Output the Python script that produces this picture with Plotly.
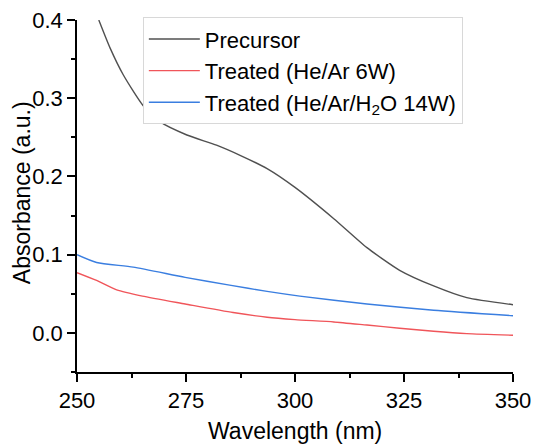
import plotly.graph_objects as go

# Data
precursor_x = [255, 257.6, 260.6, 265.1, 269, 275.2, 282, 287.4, 293.6, 300, 308.9, 316.5, 324, 331.8, 339.4, 350]
precursor_y = [0.400, 0.364, 0.330, 0.291, 0.270, 0.253, 0.240, 0.227, 0.210, 0.186, 0.146, 0.109, 0.080, 0.060, 0.045, 0.036]

he_ar_x = [250, 254.5, 259.1, 265, 274.8, 285.8, 293.6, 300, 308.9, 316.5, 324, 331.8, 339.4, 350]
he_ar_y = [0.077, 0.067, 0.055, 0.047, 0.037, 0.026, 0.020, 0.017, 0.014, 0.010, 0.006, 0.002, -0.001, -0.003]

he_ar_h2o_x = [250, 254.5, 262.9, 274.8, 285, 293.6, 301.1, 316.5, 331.8, 350]
he_ar_h2o_y = [0.100, 0.090, 0.084, 0.071, 0.061, 0.053, 0.047, 0.037, 0.029, 0.022]

series_names = ["Precursor", "Treated (He/Ar 6W)", "Treated (He/Ar/H<sub>2</sub>O 14W)"]
series_colors = ["#505050", "#f0555a", "#3a7ee0"]

x_ticks = [250, 275, 300, 325, 350]
y_ticks = [0.0, 0.1, 0.2, 0.3, 0.4]

FONT = "Liberation Sans, Arial, sans-serif"

fig = go.Figure()
for xs, ys, name, color in zip(
    [precursor_x, he_ar_x, he_ar_h2o_x],
    [precursor_y, he_ar_y, he_ar_h2o_y],
    series_names, series_colors,
):
    fig.add_trace(go.Scatter(x=xs, y=ys, mode="lines", name=name,
                             line=dict(color=color, width=1.4, shape="spline", smoothing=0.6)))

fig.update_layout(
    width=534, height=444,
    margin=dict(l=77, r=21, t=20, b=72, autoexpand=False),
    paper_bgcolor="white", plot_bgcolor="white",
    font=dict(family=FONT, size=22, color="black"),
    showlegend=True,
    legend=dict(
        x=0.151, y=1.008, xanchor="left", yanchor="top",
        bgcolor="white", bordercolor="#d8d8d8", borderwidth=1,
        font=dict(family=FONT, size=22, color="black"),
        tracegroupgap=0, itemwidth=51,
    ),
)

fig.update_xaxes(
    range=[250, 350], tickvals=x_ticks, ticktext=[str(v) for v in x_ticks],
    automargin=False,
    showgrid=False, zeroline=False, showline=True, linecolor="black", linewidth=1.5,
    ticks="outside", ticklen=8, tickwidth=1.5, tickcolor="black",
    tickfont=dict(size=22),
    minor=dict(dtick=12.5, ticks="outside", ticklen=4, tickwidth=1.5, tickcolor="black", showgrid=False),
)
fig.update_yaxes(
    range=[-0.05, 0.4], tickvals=y_ticks, ticktext=["%.1f" % v for v in y_ticks],
    automargin=False,
    showgrid=False, zeroline=False, showline=True, linecolor="black", linewidth=1.5,
    ticks="outside", ticklen=8, tickwidth=1.5, tickcolor="black",
    tickfont=dict(size=22),
    minor=dict(dtick=0.05, ticks="outside", ticklen=4, tickwidth=1.5, tickcolor="black", showgrid=False),
)

fig.add_annotation(text="Wavelength (nm)", xref="paper", yref="paper",
                   x=0.5, y=-0.168, xanchor="center", yanchor="middle",
                   showarrow=False, font=dict(family=FONT, size=23, color="black"))
fig.add_annotation(text="Absorbance (a.u.)", xref="paper", yref="paper",
                   x=(22 - 77) / 436, y=0.508, xanchor="center", yanchor="middle",
                   textangle=-90, showarrow=False, font=dict(family=FONT, size=23, color="black"))

fig.write_html("out.html", config={"displayModeBar": False},
               post_script="document.body.style.margin='0';document.body.style.overflow='hidden';")
